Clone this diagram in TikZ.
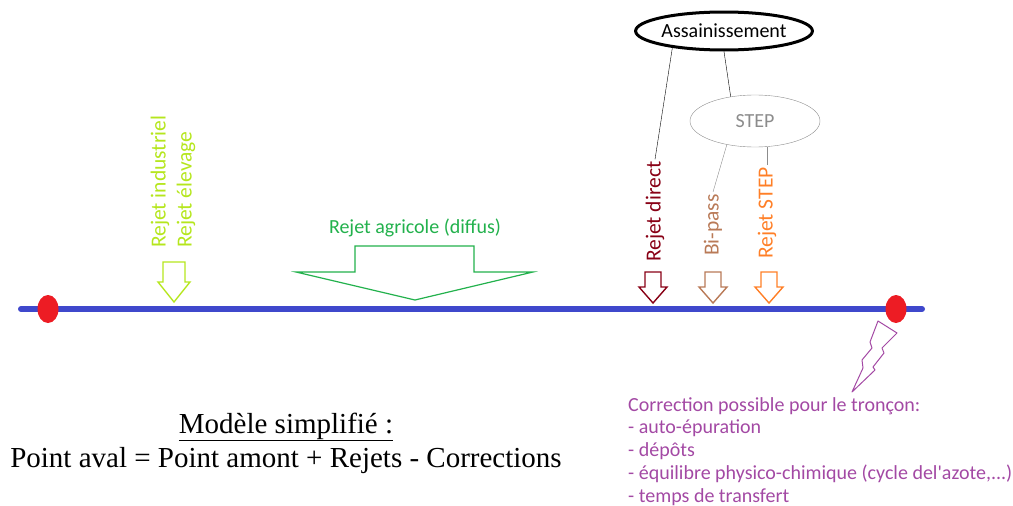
\documentclass[tikz,border=0pt]{standalone}
\usepackage{fontspec}
\setmainfont{Liberation Serif}
\newfontfamily\calibri{Carlito}
\usetikzlibrary{shapes.geometric}
\definecolor{riverblue}{HTML}{3F48CC}
\definecolor{pointred}{HTML}{ED1C24}
\definecolor{rindus}{HTML}{B5E61D}
\definecolor{ragri}{HTML}{22B14C}
\definecolor{rdirect}{HTML}{880015}
\definecolor{rbipass}{HTML}{B97A57}
\definecolor{rstepc}{HTML}{FF7F27}
\definecolor{stepgray}{HTML}{8C8C8C}
\definecolor{corrpurple}{HTML}{A349A4}

\begin{document}
\begin{tikzpicture}[x=1pt, y=-1pt,
	every node/.style={font=\calibri\fontsize{20}{22.75}\selectfont, inner sep=2pt},
	vlabel/.style={rotate=90, anchor=west, font=\calibri\fontsize{21.5}{24}\selectfont},
	dot/.style={ellipse, fill=pointred, minimum width=21pt, minimum height=28pt, inner sep=0pt},
	hollow/.style={line width=1.4pt, line join=miter}]
	\useasboundingbox (0,0) rectangle (1013,506);
	\draw[riverblue, line width=6pt, line cap=round] (21,309) -- (922,309);
	\node[dot] (amont) at (48,309) {};
	\node[dot] (aval) at (896,309) {};

	\node[vlabel, rindus] (indus) at (160,250) {Rejet industriel};
	\node[vlabel, rindus] (elevage) at (186,250) {Rejet élevage};
	\draw[rindus, hollow] (163,262) -- (185,262) -- (185,282) -- (190,282) -- (174,302) -- (158,282) -- (163,282) -- cycle;

	\node[ragri] (agri) at (415,228) {Rejet agricole (diffus)};
	\draw[ragri, line width=1.2pt] (355,246) -- (474,246) -- (474,272) -- (533,272) -- (415,300) -- (296,272) -- (355,272) -- cycle;

	\node[draw, ellipse, line width=3pt, minimum width=174pt, minimum height=38pt, inner sep=0pt] (assain) at (724,31) {Assainissement};
	\node[draw=stepgray, ellipse, minimum width=130pt, minimum height=52pt, text=stepgray] (step) at (755,121) {STEP};

	\node[vlabel, rdirect] (direct) at (655,264) {Rejet direct};
	\node[vlabel, rbipass] (bipass) at (713,258) {Bi-pass};
	\node[vlabel, rstepc] (rstep) at (767,261) {Rejet STEP};
	\draw (assain.198) -- (direct.east);
	\draw (assain.south) -- (step.135);
	\draw[stepgray] (step.220) -- (bipass.east);
	\draw[stepgray] (rstep.east |- step.south) -- (rstep.east);
	\foreach \x/\c in {653/rdirect, 713/rbipass, 769/rstepc}
		\draw[\c, hollow] (\x-8,272) -- (\x+8,272) -- (\x+8,287) -- (\x+14,287) -- (\x,303) -- (\x-14,287) -- (\x-8,287) -- cycle;

	\draw[corrpurple, line width=1pt, line join=round] (878,321) -- (897,333) -- (882,348) -- (884,353) -- (873,367) -- (875,370) -- (852,392) -- (863,368) -- (862,360) -- (872,348) -- (870,342) -- cycle;
	\node[corrpurple, anchor=base west, align=left] (corr) at (626,502) {Correction possible pour le tronçon:\\- auto-épuration\\- dépôts\\- équilibre physico-chimique (cycle del'azote,...)\\- temps de transfert};

	\node[font=\rmfamily\fontsize{29}{34}\selectfont, anchor=base] (model) at (286,433) {\underline{Modèle simplifié :}};
	\node[font=\rmfamily\fontsize{29}{34}\selectfont, anchor=base] (eqn) at (286,467) {Point aval = Point amont + Rejets - Corrections};
\end{tikzpicture}
\end{document}
